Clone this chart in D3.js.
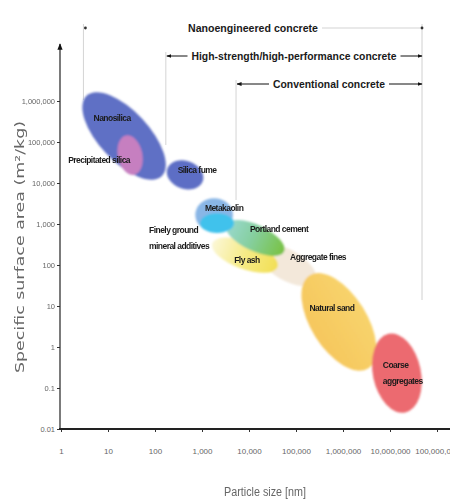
<!DOCTYPE html>
<html lang="en">
<head>
<meta charset="utf-8">
<title>Particle size vs specific surface area</title>
<script src="https://d3js.org/d3.v7.min.js"></script>
<style>
  body { margin: 0; background: #fff; }
  text { font-family: "Liberation Sans Narrow", "Arial Narrow", "Liberation Sans", sans-serif; }
</style>
</head>
<body>
<svg id="chart" width="450" height="502"></svg>
<script>
// ---- data ----
const xTicks = [1, 10, 100, 1e3, 1e4, 1e5, 1e6, 1e7, 1e8];
const xTickLabels = ["1", "10", "100", "1,000", "10,000", "100,000", "1,000,000", "10,000,000", "100,000,000"];
const yTicks = [0.01, 0.1, 1, 10, 100, 1e3, 1e4, 1e5, 1e6];
const yTickLabels = ["0.01", "0.1", "1", "10", "100", "1,000", "10,000", "100,000", "1,000,000"];

// materials: centre size (nm), centre surface area (m2/kg), half-extent in decades, tilt (deg)
const materials = ["Aggregate fines", "Natural sand", "Coarse aggregates", "Fly ash", "Portland cement",
                   "Metakaolin", "Finely ground mineral additives", "Nanosilica", "Precipitated silica", "Silica fume"];
const sizeCentre = [64500, 8.2e5, 1.4e7, 8200, 13500, 1810, 2090, 22, 29.5, 436];
const areaCentre = [100, 4.1, 0.23, 174, 457, 1660, 1050, 1.4e5, 4.8e4, 1.58e4];
const sizeSpread = [0.70, 1.17, 0.51, 0.74, 0.68, 0.40, 0.36, 1.17, 0.26, 0.40];
const areaSpread = [0.37, 0.68, 0.98, 0.34, 0.32, 0.41, 0.24, 0.61, 0.49, 0.34];
const tilt = [30, 58, -12, 20, 25, 0, 0, 47, -12, 20];

// concrete classes: particle size range covered (nm)
const classes = ["Nanoengineered concrete", "High-strength/high-performance concrete", "Conventional concrete"];
const classFrom = [3, 170, 5300];
const classTo = [4.8e7, 4.8e7, 4.8e7];

// ---- drawing ----
const svg = d3.select("#chart");
const x = d3.scaleLog().domain([1, 1e8]).range([61, 437]);
const y = d3.scaleLog().domain([0.01, 1e6]).range([429, 101]);

const fills = {
  "Aggregate fines": "#f3e8da",
  "Natural sand": "url(#gSand)",
  "Coarse aggregates": "#ec6b6f",
  "Fly ash": "url(#gFly)",
  "Portland cement": "url(#gPc)",
  "Metakaolin": "#89b6e6",
  "Finely ground mineral additives": "#3fc2ec",
  "Nanosilica": "#5f6fc5",
  "Precipitated silica": "#c67fc0",
  "Silica fume": "#5d6ec5"
};
const labelText = {
  "Finely ground mineral additives": ["Finely ground", "mineral additives"],
  "Coarse aggregates": ["Coarse", "aggregates"],
  "Silica fume": ["Silica fume"]
};
const labelPos = { // pixel offset from the blob centre, anchor
  "Aggregate fines": [31, -8, "middle"],
  "Natural sand": [-7, -14, "middle"],
  "Coarse aggregates": [-14, -8, "start"],
  "Fly ash": [2, 5, "middle"],
  "Portland cement": [24, -9, "middle"],
  "Metakaolin": [10, -7, "middle"],
  "Finely ground mineral additives": [-68, 7, "start"],
  "Nanosilica": [-12, -18, "middle"],
  "Precipitated silica": [-31, 5, "middle"],
  "Silica fume": [12, -5, "middle"]
};

const defs = svg.append("defs");
defs.append("filter").attr("id", "soft").append("feGaussianBlur").attr("stdDeviation", 1.1);
function grad(id, stops, x2, y2) {
  const g = defs.append("linearGradient").attr("id", id)
    .attr("x1", 0).attr("y1", 0).attr("x2", x2).attr("y2", y2);
  stops.forEach(s => g.append("stop").attr("offset", s[0]).attr("stop-color", s[1]));
}
grad("gPc", [[0, "#9ad9d0"], [0.45, "#86cfa0"], [1, "#78c242"]], 1, 0);
grad("gFly", [[0, "#fbf7d6"], [0.5, "#f6eb86"], [1, "#f2df55"]], 1, 0);
grad("gSand", [[0, "#f8d36c"], [1, "#f6c75d"]], 0, 1);
const arrow = defs.append("marker").attr("id", "arr").attr("viewBox", "0 0 10 10")
  .attr("refX", 9).attr("refY", 5).attr("markerWidth", 5).attr("markerHeight", 5)
  .attr("orient", "auto-start-reverse");
arrow.append("path").attr("d", "M0,1L10,5L0,9Z").attr("fill", "#111");

// vertical guide lines for the concrete classes
const guideTop = [24, 52, 80];
const guideBottom = [100, 145, 200];
classes.forEach((c, i) => {
  svg.append("line").attr("x1", x(classFrom[i])).attr("x2", x(classFrom[i]))
    .attr("y1", guideTop[i]).attr("y2", guideBottom[i])
    .attr("stroke", "#d4d4d4").attr("stroke-width", 1);
});
svg.append("line").attr("x1", x(classTo[0])).attr("x2", x(classTo[0]))
  .attr("y1", 24).attr("y2", 300).attr("stroke", "#d8d8d8").attr("stroke-width", 1.2);

// class labels with arrows
const classY = [28, 56, 84];
const classTextX = [253, 294, 329];
const classTextW = [130, 205, 112];
classes.forEach((c, i) => {
  const x0 = x(classFrom[i]), x1 = x(classTo[i]);
  const t0 = classTextX[i] - classTextW[i] / 2 - 4, t1 = classTextX[i] + classTextW[i] / 2 + 4;
  if (i === 0) {
    svg.append("line").attr("x1", t1).attr("x2", x1).attr("y1", classY[i]).attr("y2", classY[i])
      .attr("stroke", "#c8c8c8").attr("stroke-width", 0.8);
    [x0 + 2, x1].forEach(px => svg.append("circle").attr("cx", px).attr("cy", classY[i])
      .attr("r", 1.4).attr("fill", "#333"));
  } else {
    svg.append("line").attr("x1", t0).attr("x2", x0 + 1).attr("y1", classY[i]).attr("y2", classY[i])
      .attr("stroke", "#111").attr("stroke-width", 1).attr("marker-end", "url(#arr)");
    svg.append("line").attr("x1", t1).attr("x2", x1).attr("y1", classY[i]).attr("y2", classY[i])
      .attr("stroke", "#111").attr("stroke-width", 1).attr("marker-end", "url(#arr)");
  }
  svg.append("text").attr("x", classTextX[i]).attr("y", classY[i] + 4)
    .attr("text-anchor", "middle").attr("font-size", 11).attr("font-weight", "bold")
    .attr("textLength", classTextW[i]).attr("lengthAdjust", "spacingAndGlyphs")
    .attr("fill", "#1a1a1a").text(c);
});

// material blobs
const rows = materials.map((m, i) => {
  const cx = x(sizeCentre[i]), cy = y(areaCentre[i]);
  const rx = x(sizeCentre[i] * Math.pow(10, sizeSpread[i])) - cx;
  const ry = cy - y(areaCentre[i] * Math.pow(10, areaSpread[i]));
  return { name: m, cx, cy, rx, ry, a: tilt[i] };
});

svg.append("g").attr("filter", "url(#soft)")
  .selectAll("ellipse").data(rows).join("ellipse")
  .attr("transform", d => `translate(${d.cx},${d.cy}) rotate(${d.a})`)
  .attr("rx", d => d.rx).attr("ry", d => d.ry)
  .attr("fill", d => fills[d.name]);

const lab = svg.append("g").selectAll("text").data(rows).join("text")
  .attr("x", d => d.cx + labelPos[d.name][0])
  .attr("y", d => d.cy + labelPos[d.name][1] + 3)
  .attr("text-anchor", d => labelPos[d.name][2])
  .attr("font-size", 8.5).attr("font-weight", "bold").attr("fill", "#1b1b1b").attr("letter-spacing", -0.55);
lab.each(function(d) {
  const lines = labelText[d.name] || [d.name];
  const t = d3.select(this);
  lines.forEach((l, k) => t.append("tspan").attr("x", d.cx + labelPos[d.name][0])
    .attr("dy", k === 0 ? 0 : 15.5).text(l));
});

// axes
const xAxis = svg.append("g").attr("transform", "translate(0,429)")
  .call(d3.axisBottom(x).tickValues(xTicks).tickFormat((d, i) => xTickLabels[i]).tickSize(3).tickPadding(16));
xAxis.select(".domain").remove();
xAxis.selectAll("line").attr("stroke", "#333");
xAxis.selectAll("text").attr("font-size", 8).attr("fill", "#666")
  .attr("font-family", "'Liberation Sans Narrow', 'Arial Narrow', sans-serif");

const yAxis = svg.append("g").attr("transform", "translate(60,0)")
  .call(d3.axisLeft(y).tickValues(yTicks).tickFormat((d, i) => yTickLabels[i]).tickSize(3).tickPadding(2));
yAxis.select(".domain").remove();
yAxis.selectAll("line").attr("stroke", "#333");
yAxis.selectAll("text").attr("font-size", 7.5).attr("fill", "#666")
  .attr("font-family", "'Liberation Sans Narrow', 'Arial Narrow', sans-serif");

svg.append("line").attr("x1", 60).attr("x2", 60).attr("y1", 430).attr("y2", 44)
  .attr("stroke", "#333").attr("stroke-width", 1.3).attr("marker-end", "url(#arr)");
svg.append("line").attr("x1", 59).attr("x2", 450).attr("y1", 429).attr("y2", 429)
  .attr("stroke", "#222").attr("stroke-width", 2.2);

// axis titles
svg.append("text").attr("x", 265).attr("y", 496).attr("text-anchor", "middle")
  .attr("font-size", 12).attr("fill", "#666").attr("textLength", 82).attr("lengthAdjust", "spacingAndGlyphs")
  .text("Particle size [nm]");
svg.append("text").attr("transform", "translate(24,247) rotate(-90)").attr("text-anchor", "middle")
  .attr("font-size", 12.5).attr("fill", "#666")
  .style("font-family", "'DejaVu Sans', sans-serif")
  .attr("textLength", 252).attr("lengthAdjust", "spacingAndGlyphs")
  .text("Specific surface area (m\u00b2/kg)");
</script>
</body>
</html>
